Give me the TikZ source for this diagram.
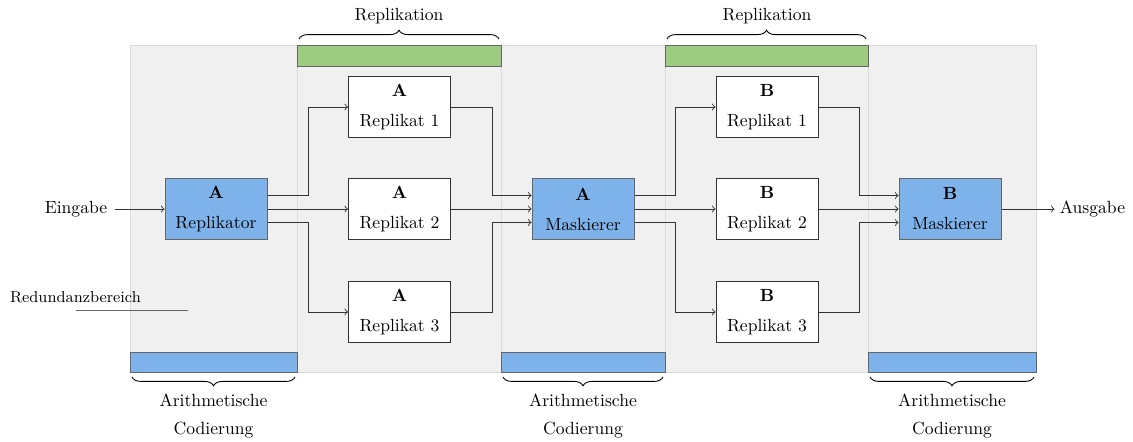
\documentclass[tikz,border=0pt]{standalone}
\usetikzlibrary{calc,decorations.pathreplacing}
\definecolor{bgray}{HTML}{F0F0F0}
\definecolor{bline}{HTML}{DADADA}
\definecolor{barblue}{HTML}{7DB3EA}
\definecolor{bargreen}{HTML}{9DCB81}
\definecolor{edge}{HTML}{666666}
\definecolor{wire}{HTML}{333333}
\begin{document}
\begin{tikzpicture}[x=0.568pt,y=-0.568pt,
  region/.style={fill=bgray,draw=bline,line width=0.5pt},
  codebar/.style={fill=barblue,draw=edge,line width=0.5pt},
  repbar/.style={fill=bargreen,draw=edge,line width=0.5pt},
  unit/.style={draw=wire,line width=0.5pt,minimum width=58pt,minimum height=35pt,
    inner sep=0pt,align=center,font=\normalsize},
  bluebox/.style={unit,fill=barblue,draw=edge},
  whitebox/.style={unit,fill=white},
  conn/.style={draw=wire,line width=0.5pt,->},
  brc/.style={decorate,decoration={brace,amplitude=5pt},line width=0.5pt},
  lbl/.style={inner sep=0pt,align=center}
]
\useasboundingbox (0,0) rectangle (1133,441);

% background regions
\fill[region] (130,45) rectangle (297,372);
\fill[region] (297,45) rectangle (501,372);
\fill[region] (501,45) rectangle (665,372);
\fill[region] (665,45) rectangle (868,372);
\fill[region] (868,45) rectangle (1036,372);
\draw[bline,line width=0.5pt] (130,45) rectangle (297,372);
\draw[bline,line width=0.5pt] (297,45) rectangle (501,372);
\draw[bline,line width=0.5pt] (501,45) rectangle (665,372);
\draw[bline,line width=0.5pt] (665,45) rectangle (868,372);
\draw[bline,line width=0.5pt] (868,45) rectangle (1036,372);

% replication bars
\draw[repbar] (297,45) rectangle (501,66);
\draw[repbar] (665,45) rectangle (868,66);
% coding bars
\draw[codebar] (130,352) rectangle (297,372);
\draw[codebar] (501,352) rectangle (665,372);
\draw[codebar] (868,352) rectangle (1036,372);

% braces and their labels
\draw[brc] (299,39) -- (499,39);
\node[lbl] (rl1) at (399,16) {Replikation};
\draw[brc] (667,39) -- (866,39);
\node[lbl] (rl2) at (767,16) {Replikation};

\draw[brc] (295,377) -- (132,377);
\node[lbl] (cl1) at (213.5,416) {Arithmetische\\[4pt]Codierung};
\draw[brc] (663,377) -- (503,377);
\node[lbl] (cl2) at (583,416) {Arithmetische\\[4pt]Codierung};
\draw[brc] (1034,377) -- (870,377);
\node[lbl] (cl3) at (952,416) {Arithmetische\\[4pt]Codierung};

% legend entry
\node[lbl,font=\small] (red) at (75.5,297) {Redundanzbereich};
\coordinate (redA) at (76,310);
\coordinate (redB) at (188,310);
\draw[edge,line width=0.5pt] (redA) -- (redB);

% processing units
\node[bluebox] (rep) at (216,209) {\textbf{A}\\[5pt]Replikator};
\node[whitebox] (a1) at (399.5,107) {\textbf{A}\\[5pt]Replikat 1};
\node[whitebox] (a2) at (399.5,209) {\textbf{A}\\[5pt]Replikat 2};
\node[whitebox] (a3) at (399.5,312) {\textbf{A}\\[5pt]Replikat 3};
\node[bluebox] (ma) at (583,209) {\textbf{A}\\[5pt]Maskierer};
\node[whitebox] (b1) at (767,107) {\textbf{B}\\[5pt]Replikat 1};
\node[whitebox] (b2) at (767,209) {\textbf{B}\\[5pt]Replikat 2};
\node[whitebox] (b3) at (767,312) {\textbf{B}\\[5pt]Replikat 3};
\node[bluebox] (mb) at (950,209) {\textbf{B}\\[5pt]Maskierer};

% input and output
\node[lbl] (in) at (76,209) {Eingabe};
\node[lbl] (out) at (1092.5,209) {Ausgabe};
\draw[conn] ($(in.east)+(7,0)$) -- (rep.west);
\draw[conn] (mb.east) -- ($(out.west)+(-5,0)$);

% replicator A fan-out
\draw[conn] ($(rep.east)+(0,-13.5)$) -- ++(41,0) |- (a1.west);
\draw[conn] (rep.east) -- (a2.west);
\draw[conn] ($(rep.east)+(0,13.5)$) -- ++(41,0) |- (a3.west);

% replicas A into voter A
\draw[conn] (a1.east) -- ++(41,0) |- ($(ma.west)+(0,-13.5)$);
\draw[conn] (a2.east) -- (ma.west);
\draw[conn] (a3.east) -- ++(41,0) |- ($(ma.west)+(0,13.5)$);

% voter A fan-out to replicas B
\draw[conn] ($(ma.east)+(0,-13.5)$) -- ++(41,0) |- (b1.west);
\draw[conn] (ma.east) -- (b2.west);
\draw[conn] ($(ma.east)+(0,13.5)$) -- ++(41,0) |- (b3.west);

% replicas B into voter B
\draw[conn] (b1.east) -- ++(41,0) |- ($(mb.west)+(0,-13.5)$);
\draw[conn] (b2.east) -- (mb.west);
\draw[conn] (b3.east) -- ++(41,0) |- ($(mb.west)+(0,13.5)$);
\end{tikzpicture}
\end{document}
